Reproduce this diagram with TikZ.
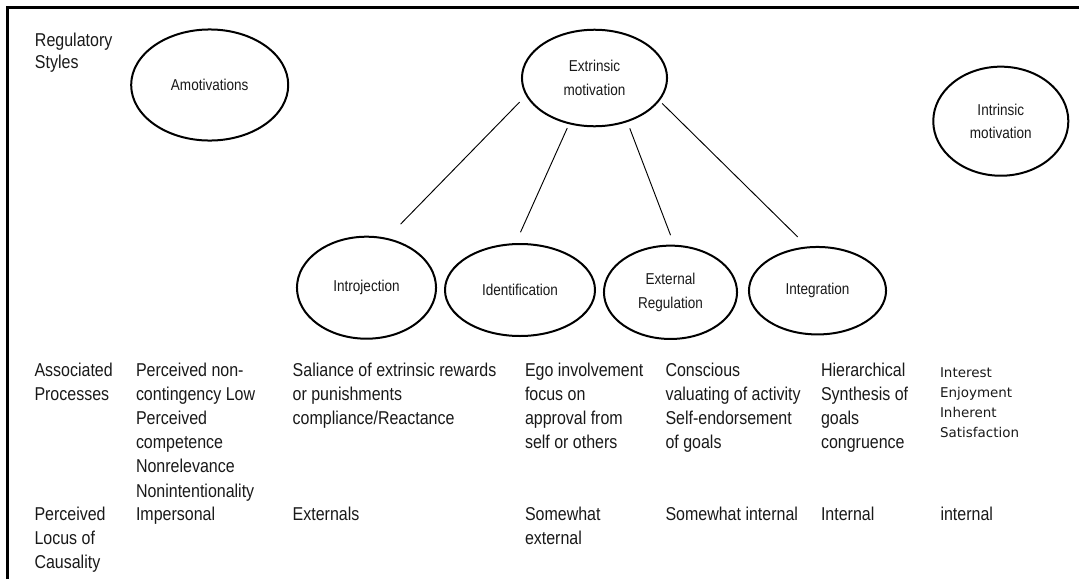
\documentclass[tikz,border=0pt]{standalone}
\usepackage{fontspec}
\setmainfont{Liberation Sans}[FakeStretch=0.86]
\newfontfamily\intfont{DejaVu Sans}
\usetikzlibrary{shapes.geometric}
\begin{document}
\begin{tikzpicture}[x=0.75pt,y=-0.75pt,
  every node/.style={inner sep=0pt, outer sep=0pt, text=black!90},
  oval/.style={ellipse, draw, line width=1.5pt, align=center, font=\fontsize{11.8pt}{17.5pt}\selectfont},
  lbl/.style={anchor=base west, align=left, font=\fontsize{13.95pt}{18.15pt}\selectfont},
  link/.style={line width=0.7pt}]
\useasboundingbox (0,0) rectangle (1079,579);
\draw[line width=2.1pt] (7.5,579) -- (7.5,7.3) -- (1079,7.3);

\node[oval, minimum width=117.8pt, minimum height=83.3pt] (amot) at (209.7,85) {Amotivations};
\node[oval, minimum width=108.8pt, minimum height=72.4pt] (ext) at (594.5,78) {Extrinsic\\motivation};
\node[oval, minimum width=101.3pt, minimum height=81.8pt] (intr) at (1000.8,121.2) {Intrinsic\\motivation};
\node[oval, minimum width=104.3pt, minimum height=76.5pt] (introj) at (366.5,287.7) {Introjection};
\node[oval, minimum width=112.5pt, minimum height=69pt] (ident) at (520,290) {Identification};
\node[oval, minimum width=99.8pt, minimum height=70pt] (extreg) at (670.5,292.3) {External\\Regulation};
\node[oval, minimum width=102.8pt, minimum height=65.6pt] (integ) at (817.5,290.7) {Integration};

\draw[link, shorten <=7.5pt, shorten >=15.4pt] (ext.194.85) -- (introj.68.4);
\draw[link, shorten <=3.9pt, shorten >=9.7pt] (ext.241.3) -- (ident.96.6);
\draw[link, shorten <=5.8pt, shorten >=8.5pt] (ext.307.9) -- (extreg.85.2);
\draw[link, shorten <=3.4pt, shorten >=11.1pt] (ext.341.2) -- (integ.102.6);

% base anchor = baseline of the last line
\node[lbl, font=\fontsize{13.95pt}{16.2pt}\selectfont] (rs) at (35,68.3) {Regulatory\\Styles};
\node[lbl] (ap) at (34.5,400.2) {Associated\\Processes};
\node[lbl] (plc) at (34.5,568.4) {Perceived\\Locus of\\Causality};
\node[lbl] (p1) at (136,497) {Perceived non-\\contingency Low\\Perceived\\competence\\Nonrelevance\\Nonintentionality};
\node[lbl] (p2) at (292.7,424.4) {Saliance of extrinsic rewards\\or punishments\\compliance/Reactance};
\node[lbl] (p3) at (525,448.6) {Ego involvement\\focus on\\approval from\\self or others};
\node[lbl] (p4) at (665.5,448.6) {Conscious\\valuating of activity\\Self-endorsement\\of goals};
\node[lbl] (p5) at (821,448.6) {Hierarchical\\Synthesis of\\goals\\congruence};
\node[lbl, font=\intfont\fontsize{10.1pt}{15pt}\selectfont] (p6) at (940,437.7) {Interest\\Enjoyment\\Inherent\\Satisfaction};
\node[lbl] (l1) at (136,520) {Impersonal};
\node[lbl] (l2) at (292.7,520) {Externals};
\node[lbl] (l3) at (525,544.2) {Somewhat\\external};
\node[lbl] (l4) at (665.5,520) {Somewhat internal};
\node[lbl] (l5) at (821,520) {Internal};
\node[lbl] (l6) at (940.5,520) {internal};
\end{tikzpicture}
\end{document}
